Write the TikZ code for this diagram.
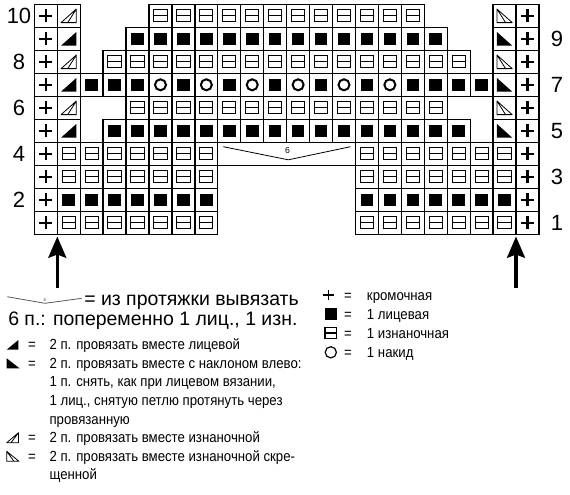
\documentclass[tikz,border=0pt]{standalone}
\usepackage{fontspec}
\setmainfont{Liberation Sans}
\newfontfamily\legendfont[FakeStretch=0.9]{Liberation Sans}
\usetikzlibrary{arrows.meta}

\newcommand{\cellW}{22.94}
\newcommand{\cellH}{23}
% one chart cell: column, row, symbol
\newcommand{\stitch}[3]{%
  \path ({34.3+\cellW*(#1-0.5)},{4.3+\cellH*(10.5-#2)}) pic {cellbox} pic {#3};}

\tikzset{
  cellbox/.pic={\draw[line width=1pt] (-11.47,-11.5) rectangle (11.47,11.5);},
  edgest/.pic={\draw[line width=1.7pt] (-6.6,0) -- (6.6,0) (0,-6.6) -- (0,6.6);},
  knitst/.pic={\fill (-6.3,-6.3) rectangle (6.3,6.3);},
  purlst/.pic={\draw[line width=0.75pt] (-6.6,-6.1) rectangle (6.6,6.1) (-6.6,0) -- (6.6,0);},
  yost/.pic={\draw[line width=1.5pt] (0,0) circle (5.5);},
  kdecl/.pic={\fill (-7.6,-6.8) -- (7.6,-6.8) -- (7.6,6.8) -- cycle;},
  kdecr/.pic={\fill (-7.6,6.8) -- (-7.6,-6.8) -- (7.6,-6.8) -- cycle;},
  pdecl/.pic={\draw[line width=0.6pt,line join=round] (-7.6,-6.8) -- (7.6,-6.8) -- (7.6,6.8) -- cycle (-1,-6.8) -- (7.6,6.8);},
  pdecr/.pic={\draw[line width=0.6pt,line join=round] (-7.6,6.8) -- (-7.6,-6.8) -- (7.6,-6.8) -- cycle (-7.6,6.8) -- (1,-6.8);},
}

\begin{document}
\begin{tikzpicture}[x=0.75pt,y=0.75pt,yscale=-1,xscale=1,
  rownum/.style={inner sep=0pt,font=\fontsize{16.5}{16.5}\selectfont},
  bigtext/.style={inner sep=0pt,anchor=base west,font=\fontsize{14.6}{17}\selectfont},
  legtext/.style={inner sep=0pt,anchor=base west,font=\legendfont\fontsize{11}{13}\selectfont},
  eqsign/.style={inner sep=0pt,anchor=base,font=\legendfont\fontsize{11}{13}\selectfont},
  legsym/.style={line width=0.6pt,line join=round},
  uparrow/.style={line width=2.3pt,-{Stealth[length=16pt,width=13.5pt,inset=2.5pt]}}]
\useasboundingbox (0,0) rectangle (570,494);

% rows 1-4, both side blocks
\foreach \c in {2,3,4,5,6,7,8,15,16,17,18,19,20,21} {
  \stitch{\c}{1}{purlst}
  \stitch{\c}{2}{knitst}
  \stitch{\c}{3}{purlst}
  \stitch{\c}{4}{purlst}
}
% edge stitches
\foreach \r in {1,...,10} {\stitch{1}{\r}{edgest} \stitch{22}{\r}{edgest}}
% decreases
\foreach \r in {5,7,9} {\stitch{2}{\r}{kdecl} \stitch{21}{\r}{kdecr}}
\foreach \r in {6,8,10} {\stitch{2}{\r}{pdecl} \stitch{21}{\r}{pdecr}}
% row 5
\foreach \c in {4,...,19} {\stitch{\c}{5}{knitst}}
% row 6
\foreach \c in {5,...,18} {\stitch{\c}{6}{purlst}}
% row 7
\foreach \c in {3,4,5,7,9,11,13,15,17,18,19,20} {\stitch{\c}{7}{knitst}}
\foreach \c in {6,8,...,16} {\stitch{\c}{7}{yost}}
% row 8
\foreach \c in {4,...,19} {\stitch{\c}{8}{purlst}}
% row 9
\foreach \c in {5,...,18} {\stitch{\c}{9}{knitst}}
% row 10
\foreach \c in {6,...,17} {\stitch{\c}{10}{purlst}}

%Shape: cast-on span in row 4
\draw[line width=1pt] (217.8,142.3) rectangle (355.5,165.3);
\draw[line width=0.6pt] (223.3,146.7) -- (288.3,159.8) -- (350.5,146.7);
% Text Node
\node[inner sep=0pt,font=\fontsize{6.5}{7}\selectfont] (spansix) at (287.5,150.5) {6};

% Text Node
\node[rownum] (num10) at (19,15.8) {10};
\node[rownum] (num8) at (19,61.8) {8};
\node[rownum] (num6) at (19,107.8) {6};
\node[rownum] (num4) at (19,153.8) {4};
\node[rownum] (num2) at (19,199.8) {2};
\node[rownum] (num9) at (557,38.8) {9};
\node[rownum] (num7) at (557,84.8) {7};
\node[rownum] (num5) at (557,130.8) {5};
\node[rownum] (num3) at (557,176.8) {3};
\node[rownum] (num1) at (557,222.8) {1};

% start arrows
\coordinate (arrowLtail) at (57.3,288);
\coordinate (arrowLtip) at (57.3,236.5);
\coordinate (arrowRtail) at (516,288);
\coordinate (arrowRtip) at (516,236.5);
\draw[uparrow] (arrowLtail) -- (arrowLtip);
\draw[uparrow] (arrowRtail) -- (arrowRtip);

%Shape: legend span sign
\draw[line width=0.6pt,black!65] (7.3,296.7) -- (45,303.3) -- (81.7,298.3);
\node[inner sep=0pt,font=\fontsize{3.5}{4}\selectfont,black!65] (legsix) at (45,299.8) {6};
% Text Node
\node[bigtext] (legspan) at (84,305) {= из протяжки вывязать};
\node[bigtext] (legspanb) at (8,325) {6 п.: попеременно 1 лиц., 1 изн.};

%Shape: legend decreases
\fill (6.7,349.7) -- (18.3,349.7) -- (18.3,340) -- cycle;
\node[eqsign] (eqkdl) at (32,349.7) {=};
\node[legtext] (legkdl) at (49.3,349.7) {2 п. провязать вместе лицевой};
\fill (6.7,358.3) -- (6.7,368.3) -- (19.5,368.3) -- cycle;
\node[eqsign] (eqkdr) at (32,368.3) {=};
\node[legtext] (legkdr) at (49.3,368.3) {2 п. провязать вместе с наклоном влево:};
\node[legtext] (legkdrb) at (49.3,386.9) {1 п. снять, как при лицевом вязании,};
\node[legtext] (legkdrc) at (49.3,405.5) {1 лиц., снятую петлю протянуть через};
\node[legtext] (legkdrd) at (49.3,424.1) {провязанную};
\draw[legsym] (6.7,442.7) -- (18.5,442.7) -- (18.5,432.7) -- cycle (11,442.7) -- (18.5,432.7);
\node[eqsign] (eqpdl) at (32,442.7) {=};
\node[legtext] (legpdl) at (49.3,442.7) {2 п. провязать вместе изнаночной};
\draw[legsym] (6.7,451.3) -- (6.7,461.3) -- (19,461.3) -- cycle (6.7,451.3) -- (14,461.3);
\node[eqsign] (eqpdr) at (32,461.3) {=};
\node[legtext] (legpdr) at (49.3,461.3) {2 п. провязать вместе изнаночной скре-};
\node[legtext] (legpdrb) at (49.3,479.9) {щенной};

%Shape: legend stitches
\draw[line width=1.1pt] (323.3,295) -- (334,295) (328.7,289.6) -- (328.7,300.4);
\node[eqsign] (eqedge) at (348,300) {=};
\node[legtext] (legedge) at (366.7,300) {кромочная};
\fill (324.9,308.2) rectangle (336.6,319.9);
\node[eqsign] (eqknit) at (348,319) {=};
\node[legtext] (legknit) at (366.7,319) {1 лицевая};
\draw[line width=0.8pt] (325,327.5) rectangle (336.5,338.5) (325,333) -- (336.5,333);
\node[eqsign] (eqpurl) at (348,338) {=};
\node[legtext] (legpurl) at (366.7,338) {1 изнаночная};
\draw[line width=0.9pt] (330.8,352.3) circle (5.6);
\node[eqsign] (eqyo) at (348,357) {=};
\node[legtext] (legyo) at (366.7,357) {1 накид};

\end{tikzpicture}
\end{document}
